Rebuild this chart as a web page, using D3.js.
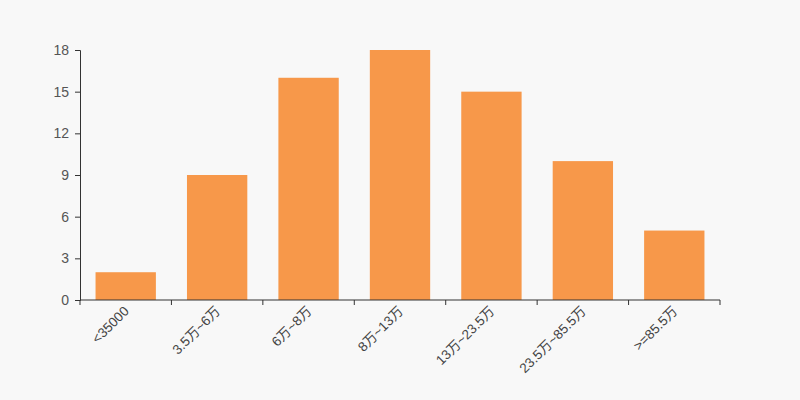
<!DOCTYPE html>
<html>
<head>
<meta charset="utf-8">
<script src="https://cdn.jsdelivr.net/npm/d3@7"></script>
<style>
  body { margin: 0; background: #f8f8f8; }
  text { font-family: "Liberation Sans", "Noto Sans CJK SC", sans-serif; }
</style>
</head>
<body>
<div id="chart-area"></div>
<script>
const categories = ['<35000', '3.5万~6万', '6万~8万', '8万~13万', '13万~23.5万', '23.5万~85.5万', '>=85.5万']
const counts = [2, 9, 16, 18, 15, 10, 5]
const yTicks = [0, 3, 6, 9, 12, 15, 18]

const margin = {top: 50, right: 80, bottom: 100, left: 80}
const width = 800 - margin.left - margin.right
const height = 400 - margin.top - margin.bottom

const svg = d3.select('#chart-area')
  .append('svg')
    .attr('width', 800)
    .attr('height', 400)
    .style('background', '#f8f8f8')

const g = svg.append('g')
  .attr('transform', `translate(${margin.left},${margin.top})`)

const x = d3.scaleBand()
  .domain(categories)
  .range([0, width])

const y = d3.scaleLinear()
  .domain([0, 18])
  .range([height, 0])

const barWidth = x.bandwidth() * 0.66

g.selectAll('rect')
  .data(counts)
  .enter()
  .append('rect')
    .attr('x', (d, i) => x(categories[i]) + (x.bandwidth() - barWidth) / 2)
    .attr('y', d => y(d))
    .attr('width', barWidth)
    .attr('height', d => height - y(d))
    .attr('fill', '#f7984a')

// x axis: ticks on band boundaries
const xAxisGroup = g.append('g')
  .attr('transform', `translate(0,${height})`)
xAxisGroup.append('line')
  .attr('x1', 0).attr('x2', width)
  .attr('stroke', '#333')
xAxisGroup.selectAll('.tick')
  .data(categories.concat([null]))
  .enter()
  .append('line')
    .attr('x1', (d, i) => i * x.step())
    .attr('x2', (d, i) => i * x.step())
    .attr('y1', 0).attr('y2', 5)
    .attr('stroke', '#333')
xAxisGroup.selectAll('.label')
  .data(categories)
  .enter()
  .append('text')
    .attr('text-anchor', 'end')
    .attr('font-size', '13.5px')
    .attr('fill', '#444')
    .attr('transform', d => `translate(${x(d) + x.bandwidth() / 2 + 4},${12}) rotate(-45)`)
    .text(d => d)

const yAxisCall = d3.axisLeft(y)
  .tickValues(yTicks)
  .tickSize(5)
  .tickPadding(6)
const yAxisGroup = g.append('g').call(yAxisCall)
yAxisGroup.select('.domain').attr('stroke', '#333')
yAxisGroup.selectAll('.tick line').attr('stroke', '#333')
yAxisGroup.selectAll('.tick text')
  .attr('font-size', '14px')
  .attr('fill', '#555')
  .style('font-family', '"Liberation Sans", sans-serif')
</script>
</body>
</html>
